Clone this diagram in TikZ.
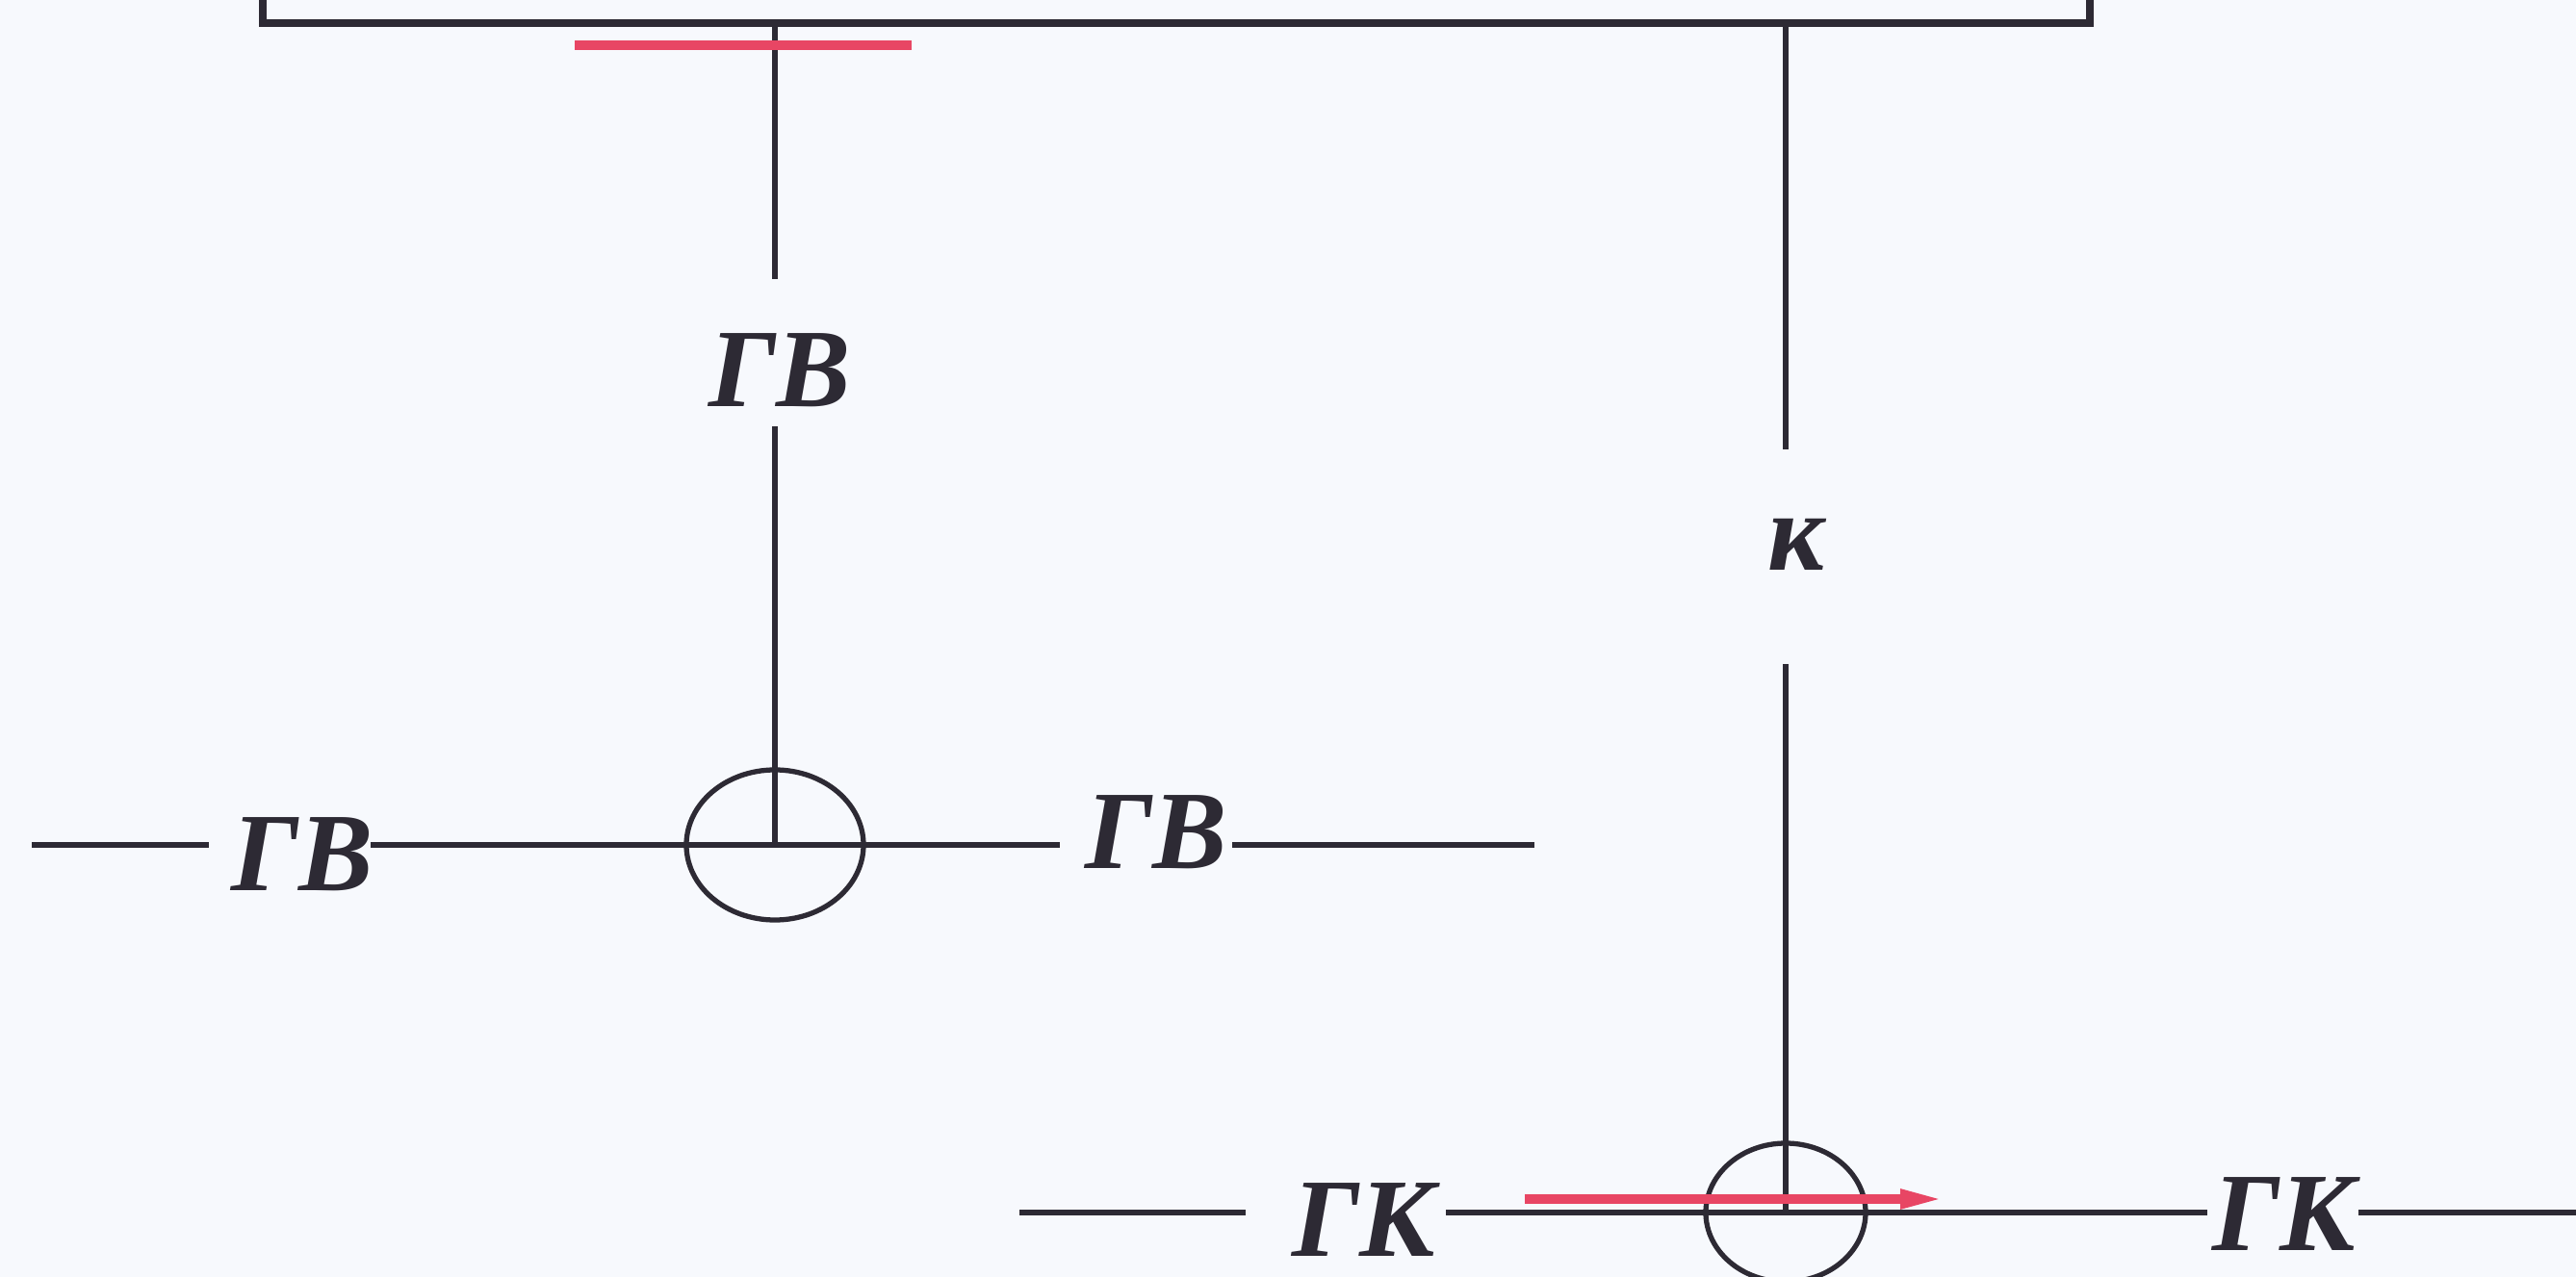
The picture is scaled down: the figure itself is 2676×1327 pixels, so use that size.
\documentclass[tikz,border=0pt]{standalone}
\usepackage{fontspec}
\setmainfont{Liberation Serif}
\usepackage{xcolor}
\usetikzlibrary{shapes.geometric, arrows.meta}

\definecolor{ink}{RGB}{45,42,52}
\definecolor{mark}{RGB}{232,70,100}
\definecolor{paper}{RGB}{247,249,253}

\tikzset{
  wire/.style={draw=ink, line width=0.85pt},
  lbl/.style={text=ink, inner sep=0pt, font=\fontsize{16.5}{18}\selectfont\bfseries\itshape},
  ring/.style={ellipse, draw=ink, line width=0.75pt, inner sep=0pt},
  redline/.style={draw=mark, line width=0.5mm},
}

\begin{document}
\begin{tikzpicture}[x=0.05mm, y=-0.05mm]
  \useasboundingbox (0,0) rectangle (2676,1327);
  \fill[paper] (0,0) rectangle (2676,1327);
  \clip (0,0) rectangle (2676,1327);

  \draw[wire, line width=1.2pt] (273,-60) rectangle (2171,24);
  \coordinate (tapL) at (805,24);
  \coordinate (tapR) at (1855,24);

  \node[lbl] (gvTop) at (810,385) {ГВ};
  \node[lbl] (k) at (1866,566) {к};
  \node[ring, minimum width=9.2mm, minimum height=7.8mm] (j1) at (805,878) {};
  \node[ring, minimum width=8.3mm, minimum height=7.2mm] (j2) at (1855,1260) {};
  \node[lbl] (gvL) at (314,888) {ГВ};
  \node[lbl] (gvR) at (1201,865) {ГВ};
  \node[lbl] (gkL) at (1417,1268) {ГК};
  \node[lbl] (gkR) at (2373,1262) {ГК};

  \coordinate (v1a) at (805,290);
  \coordinate (v1b) at (805,443);
  \coordinate (v2a) at (1855,467);
  \coordinate (v2b) at (1855,690);
  \coordinate (h1a) at (33,878);
  \coordinate (h1b) at (217,878);
  \coordinate (h1c) at (385,878);
  \coordinate (h1d) at (1101,878);
  \coordinate (h1e) at (1280,878);
  \coordinate (h1f) at (1594,878);
  \coordinate (h2a) at (1059,1260);
  \coordinate (h2b) at (1294,1260);
  \coordinate (h2c) at (1502,1260);
  \coordinate (h2d) at (2293,1260);
  \coordinate (h2e) at (2450,1260);
  \coordinate (h2f) at (2700,1260);
  \coordinate (r1) at (597,47);
  \coordinate (r2) at (947,47);
  \coordinate (r3) at (1584,1246);
  \coordinate (r4) at (2022,1246);

  \draw[wire] (tapL) -- (v1a) (v1b) -- (j1.center);
  \draw[wire] (tapR) -- (v2a) (v2b) -- (j2.center);
  \draw[wire] (h1a) -- (h1b) (h1c) -- (j1.center) -- (h1d) (h1e) -- (h1f);
  \draw[wire] (h2a) -- (h2b) (h2c) -- (j2.center) -- (h2d) (h2e) -- (h2f);

  \draw[redline] (r1) -- (r2);
  \draw[redline, -{Triangle[length=2.4mm, width=0.9mm]}] (r3) -- (r4);
\end{tikzpicture}
\end{document}
